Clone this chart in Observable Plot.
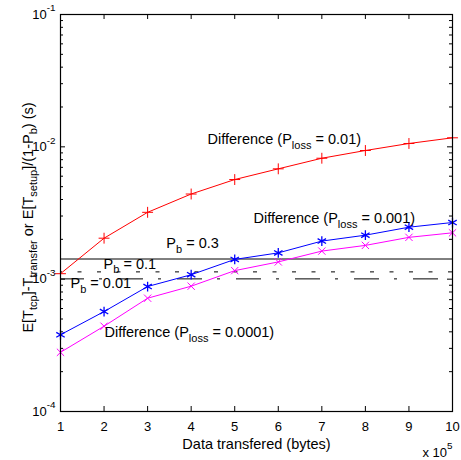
<!DOCTYPE html>
<html>
<head>
<meta charset="utf-8">
<script src="https://cdn.jsdelivr.net/npm/d3@7"></script>
<script src="https://cdn.jsdelivr.net/npm/@observablehq/plot@0.6"></script>
<style>
  html, body { margin: 0; padding: 0; background: #fff; }
  #chart { width: 461px; height: 460px; }
</style>
</head>
<body>
<div id="chart"></div>
<script>
// ---- data ----
const dataX = [1, 2, 3, 4, 5, 6, 7, 8, 9, 10];
const diffLoss001 = [1.10e-3, 2.04e-3, 3.2e-3, 4.4e-3, 5.66e-3, 6.82e-3, 8.2e-3, 9.38e-3, 1.06e-2, 1.17e-2];
const diffLoss0001 = [3.8e-4, 5.69e-4, 8.8e-4, 1.08e-3, 1.41e-3, 1.58e-3, 1.94e-3, 2.15e-3, 2.47e-3, 2.68e-3];
const diffLoss00001 = [2.8e-4, 4.41e-4, 7.18e-4, 8.85e-4, 1.16e-3, 1.35e-3, 1.63e-3, 1.80e-3, 2.07e-3, 2.24e-3];
const setupPb = [0.3, 0.1, 0.01];
const setupValues = [1.42e-3, 1.135e-3, 1.005e-3];
const annotTexts = [
  "Difference (P_{loss} = 0.01)",
  "Difference (P_{loss} = 0.001)",
  "Difference (P_{loss} = 0.0001)",
  "P_{b} = 0.3",
  "P_{b} = 0.1",
  "P_{b} = 0.01"
];
const annotX = [4.375, 5.43, 2.01, 3.43, 1.99, 1.23];
const annotY = [1.135e-2, 2.87e-3, 3.93e-4, 1.86e-3, 1.30e-3, 9.27e-4];
const xTicks = [1, 2, 3, 4, 5, 6, 7, 8, 9, 10];
const yMajor = [1e-4, 1e-3, 1e-2, 1e-1];
const yMinor = [];
for (const e of [-4, -3, -2]) for (let m = 2; m <= 9; m++) yMinor.push(m * Math.pow(10, e));
const xLabel = "Data transfered (bytes)";
const yLabel = "E[T_{tcp}]-T_{transfer} or E[T_{setup}]/(1-P_{b}) (s)";
const xExponent = "x 10^{5}";

// ---- layout ----
const W = 461, H = 460, mL = 60, mR = 9, mT = 14, mB = 49;
const fw = W - mL - mR, fh = H - mT - mB;
const majorLen = 5, minorLen = 3;
const FONT = 14.5, TICKFONT = 13;

const series = [
  {vals: diffLoss001, color: "#ff0000", symbol: "plus", r: 3.6, sw: 1},
  {vals: diffLoss0001, color: "#0000ff", symbol: "asterisk", r: 4.6, sw: 1.3},
  {vals: diffLoss00001, color: "#ff00ff", symbol: "times", r: 3.4, sw: 1}
];
const pts = s => dataX.map((x, i) => ({x, y: s.vals[i]}));

const setupRows = setupPb.map((pb, i) => ({pb, v: setupValues[i]}));
const dashes = {0.3: null, 0.1: "4 15.5", 0.01: "25 15 3 16"};

const annots = annotTexts.map((t, i) => ({t, x: annotX[i], y: annotY[i]}));

const marks = [];
for (const r of setupRows) {
  marks.push(Plot.ruleY([r.v], {stroke: "black", strokeWidth: 1, strokeDasharray: dashes[r.pb], strokeDashoffset: r.pb === 0.01 ? 1 : 2}));
}
for (const s of series) {
  marks.push(Plot.line(pts(s), {x: "x", y: "y", stroke: s.color, strokeWidth: 1}));
  marks.push(Plot.dot(pts(s), {x: "x", y: "y", stroke: s.color, symbol: s.symbol, r: s.r, strokeWidth: s.sw}));
}
marks.push(Plot.text(annots, {x: "x", y: "y", text: "t", textAnchor: "start", fill: "black"}));
// inward ticks
marks.push(Plot.tickY(yMajor, {y: d => d, insetRight: fw - majorLen, stroke: "black"}));
marks.push(Plot.tickY(yMajor, {y: d => d, insetLeft: fw - majorLen, stroke: "black"}));
marks.push(Plot.tickY(yMinor, {y: d => d, insetRight: fw - minorLen, stroke: "black"}));
marks.push(Plot.tickY(yMinor, {y: d => d, insetLeft: fw - minorLen, stroke: "black"}));
marks.push(Plot.tickX(xTicks, {x: d => d, insetTop: fh - majorLen, stroke: "black"}));
marks.push(Plot.tickX(xTicks, {x: d => d, insetBottom: fh - majorLen, stroke: "black"}));
// tick labels
marks.push(Plot.axisX(xTicks, {tickSize: 0, tickPadding: 10, fontSize: TICKFONT, tickFormat: d => String(d), label: null}));
marks.push(Plot.axisY(yMajor, {tickSize: 0, tickPadding: 5, fontSize: TICKFONT, tickFormat: d => `10^{${Math.round(Math.log10(d))}}`, label: null}));
// axis titles
marks.push(Plot.text([xLabel], {frameAnchor: "bottom", lineAnchor: "middle", textAnchor: "middle", dy: 33, text: d => d, fill: "black"}));
marks.push(Plot.text([yLabel], {frameAnchor: "left", rotate: -90, textAnchor: "middle", lineAnchor: "middle", dx: -32.5, dy: 4.5, text: d => d, fill: "black"}));
marks.push(Plot.text([xExponent], {frameAnchor: "bottom-right", textAnchor: "end", lineAnchor: "middle", dx: 0, dy: 41, fontSize: TICKFONT, text: d => d, fill: "black"}));
marks.push(Plot.frame({stroke: "black", strokeWidth: 1.2}));

const chart = Plot.plot({
  width: W, height: H,
  marginLeft: mL, marginRight: mR, marginTop: mT, marginBottom: mB,
  x: {domain: [1, 10]},
  y: {type: "log", domain: [1e-4, 1e-1]},
  style: {fontFamily: "'Liberation Sans', Arial, sans-serif", fontSize: FONT + "px", background: "white", color: "black", overflow: "visible"},
  marks
});

// convert _{..} and ^{..} into sub/superscript tspans
function richify(svg) {
  d3.select(svg).selectAll("text").each(function () {
    const el = this;
    const targets = el.querySelectorAll("tspan").length ? Array.from(el.querySelectorAll("tspan")) : [el];
    for (const node of targets) {
      const txt = node.textContent;
      if (!/[_^]\{/.test(txt)) continue;
      node.textContent = "";
      const re = /([_^])\{([^}]*)\}/g;
      let last = 0, m, pending = 0;
      const add = (s, opts) => {
        const ts = document.createElementNS("http://www.w3.org/2000/svg", "tspan");
        ts.textContent = s;
        if (opts.dy) ts.setAttribute("dy", opts.dy);
        if (opts.size) ts.setAttribute("font-size", opts.size);
        node.appendChild(ts);
      };
      while ((m = re.exec(txt))) {
        if (m.index > last) { add(txt.slice(last, m.index), {dy: pending || null}); pending = 0; }
        const shift = m[1] === "_" ? 4.5 : -7.5;
        add(m[2], {dy: shift + pending, size: "0.76em"});
        pending = -shift;
        last = re.lastIndex;
      }
      if (last < txt.length) add(txt.slice(last), {dy: pending || null});
    }
  });
}
richify(chart);
document.getElementById("chart").appendChild(chart);
</script>
</body>
</html>
